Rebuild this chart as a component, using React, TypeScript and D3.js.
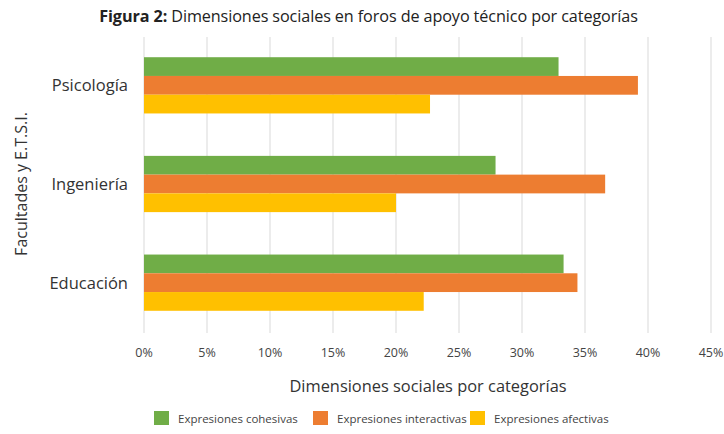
import React from "react";
import * as d3 from "d3";

const categories = ["Psicología", "Ingeniería", "Educación"];
const seriesNames = ["Expresiones cohesivas", "Expresiones interactivas", "Expresiones afectivas"];
const cohesivas = [32.9, 27.9, 33.3];
const interactivas = [39.2, 36.6, 34.4];
const afectivas = [22.7, 20.0, 22.2];
const xTicks = [0, 5, 10, 15, 20, 25, 30, 35, 40, 45];
const colors = ["#70ad47", "#ed7d31", "#ffc000"];

const W = 724;
const H = 434;
const FONT = "'Open Sans', sans-serif";

export default function App() {
  const series = [cohesivas, interactivas, afectivas];
  const x = d3.scaleLinear().domain([0, 45]).range([144, 711]);
  const y = d3.scaleBand<string>().domain(categories).range([36, 332]).paddingInner(0.43).paddingOuter(0.215);
  const sub = d3.scaleBand<number>().domain([0, 1, 2]).range([0, y.bandwidth()]);

  const legendX = [154, 313, 470];

  return (
    <svg width={W} height={H} style={{ position: "absolute", left: 0, top: 0, background: "#fff" }} fontFamily={FONT}>
      <rect width={W} height={H} fill="#fff" />
      <text x={368.5} y={22} textAnchor="middle" fontSize={16.2} fill="#222" letterSpacing={-0.1}>
        <tspan fontWeight="bold">Figura 2:</tspan>
        <tspan> Dimensiones sociales en foros de apoyo técnico por categorías</tspan>
      </text>
      {xTicks.map((t) => (
        <g key={t}>
          <line x1={x(t)} x2={x(t)} y1={37} y2={333} stroke="#d9d9d9" strokeWidth={1} />
          <text x={x(t)} y={357} textAnchor="middle" fontSize={12.5} fill="#444">{t}%</text>
        </g>
      ))}
      {categories.map((c, i) => (
        <g key={c}>
          {series.map((s, j) => (
            <rect key={j} x={x(0)} y={(y(c) ?? 0) + (sub(j) ?? 0)} width={x(s[i]) - x(0)} height={sub.bandwidth()} fill={colors[j]} />
          ))}
          <text x={128} y={(y(c) ?? 0) + y.bandwidth() / 2 + 6} textAnchor="end" fontSize={16.5} fill="#333">{c}</text>
        </g>
      ))}
      <text transform={`translate(27,184) rotate(-90)`} textAnchor="middle" fontSize={16} fill="#333">Facultades y E.T.S.I.</text>
      <text x={428} y={392} textAnchor="middle" fontSize={16.4} fill="#333">Dimensiones sociales por categorías</text>
      {seriesNames.map((n, j) => (
        <g key={n}>
          <rect x={legendX[j]} y={411} width={15} height={14} fill={colors[j]} />
          <text x={legendX[j] + 24} y={422.5} fontSize={11.5} fill="#444">{n}</text>
        </g>
      ))}
    </svg>
  );
}
